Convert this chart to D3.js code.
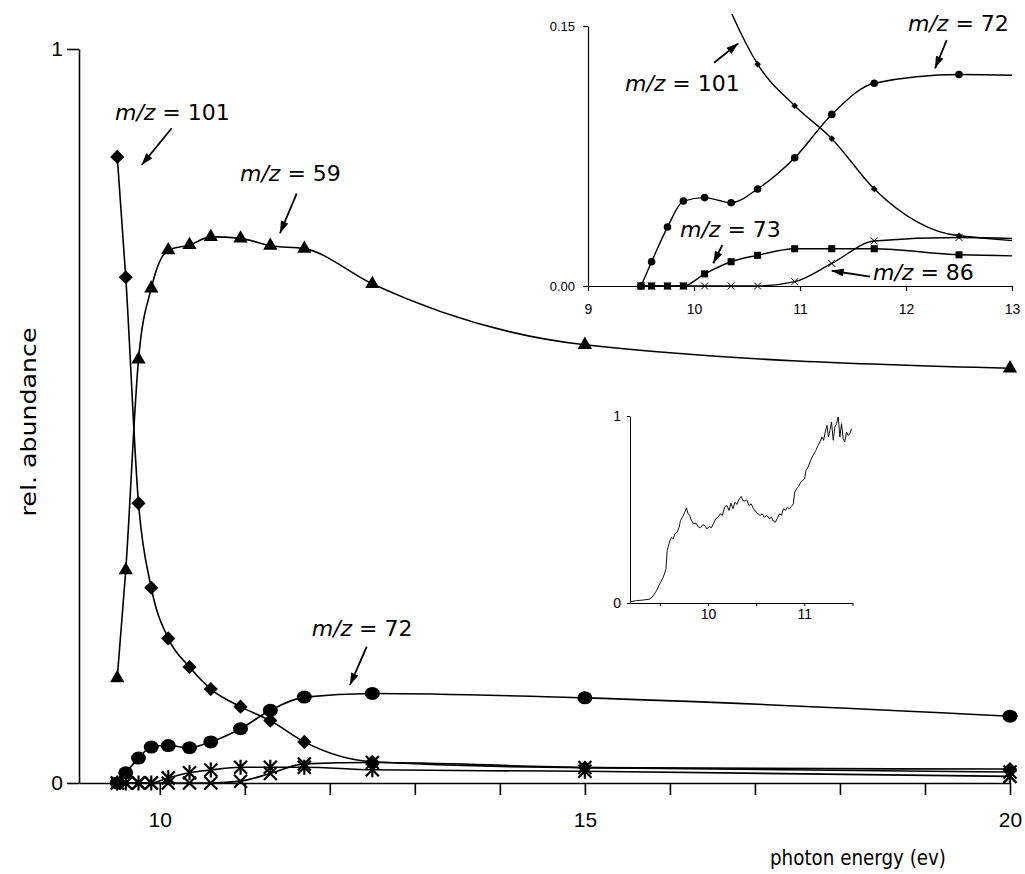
<!DOCTYPE html>
<html>
<head>
<meta charset="utf-8">
<script src="https://cdn.jsdelivr.net/npm/d3@7/dist/d3.min.js"></script>
<style>
body { margin: 0; background: #fff; }
svg { display: block; }
.note { font-family: "DejaVu Sans", sans-serif; font-size: 22px; fill: #000; }
</style>
</head>
<body>
<svg id="chart" width="1025" height="874"></svg>
<script>

// photon energies (eV) where the ion yields were measured
var energy = [9.5, 9.6, 9.75, 9.9, 10.1, 10.35, 10.6, 10.95, 11.3, 11.7, 12.5, 15, 20];

// relative abundances per ion
var mz101 = [0.853, 0.689, 0.381, 0.266, 0.197, 0.158, 0.128, 0.104, 0.085, 0.056, 0.029, 0.021, 0.019];
var mz59  = [0.143, 0.29, 0.577, 0.674, 0.726, 0.733, 0.744, 0.742, 0.732, 0.728, 0.68, 0.597, 0.565];
var mz72  = [0, 0.014, 0.034, 0.049, 0.051, 0.048, 0.056, 0.074, 0.099, 0.117, 0.122, 0.116, 0.091];
var mz73  = [0, 0, 0, 0, 0.007, 0.014, 0.0177, 0.0215, 0.0215, 0.0215, 0.018, 0.016, 0.009];
var mz86  = [0, 0, 0, 0, 0, 0, 0, 0.0025, 0.013, 0.026, 0.028, 0.021, 0.015];

// m/z 72 ion yield spectrum (small inset)
var specEnergy = [9.19, 9.26, 9.328, 9.397, 9.431, 9.466, 9.50, 9.535, 9.563, 9.576,
    9.604, 9.621, 9.638, 9.656, 9.68, 9.70, 9.714, 9.735, 9.759, 9.776,
    9.793, 9.81, 9.828, 9.852, 9.873, 9.897, 9.921, 9.948, 9.973, 9.99,
    10.01, 10.035, 10.059, 10.08, 10.104, 10.128, 10.149, 10.173, 10.197, 10.218,
    10.238, 10.259, 10.28, 10.30, 10.32, 10.345, 10.362, 10.383, 10.403, 10.424,
    10.448, 10.472, 10.50, 10.52, 10.54, 10.562, 10.586, 10.61, 10.638, 10.659,
    10.679, 10.70, 10.721, 10.741, 10.762, 10.783, 10.804, 10.824, 10.845, 10.866,
    10.886, 10.90, 10.92, 10.941, 10.962, 10.982, 11.003, 11.017, 11.038, 11.059,
    11.08, 11.10, 11.12, 11.142, 11.162, 11.183, 11.20, 11.217, 11.235, 11.25,
    11.266, 11.282, 11.30, 11.317, 11.334, 11.352, 11.369, 11.386, 11.403, 11.42,
    11.438, 11.455, 11.472, 11.49];
var specSignal = [0.007, 0.0125, 0.016, 0.021, 0.039, 0.066, 0.105, 0.1375, 0.18, 0.28,
    0.334, 0.352, 0.343, 0.37, 0.379, 0.405, 0.441, 0.459, 0.486, 0.509,
    0.477, 0.468, 0.441, 0.423, 0.427, 0.409, 0.402, 0.42, 0.409, 0.396,
    0.409, 0.402, 0.427, 0.45, 0.459, 0.477, 0.468, 0.5125, 0.521, 0.495,
    0.534, 0.504, 0.539, 0.527, 0.552, 0.57, 0.548, 0.545, 0.552, 0.521,
    0.53, 0.504, 0.486, 0.477, 0.468, 0.477, 0.459, 0.468, 0.45, 0.459,
    0.4375, 0.432, 0.455, 0.477, 0.468, 0.504, 0.495, 0.5125, 0.504, 0.516,
    0.53, 0.593, 0.611, 0.623, 0.646, 0.655, 0.664, 0.709, 0.727, 0.754,
    0.78, 0.798, 0.816, 0.843, 0.861, 0.8875, 0.87, 0.914, 0.95, 0.8875,
    0.923, 0.968, 0.87, 0.941, 0.959, 0.995, 0.8875, 0.959, 0.879, 0.861,
    0.914, 0.896, 0.905, 0.932];

var mainTicks = d3.range(10, 21);
var mainTickLabels = [10, 15, 20];
var insetTicks = [9, 10, 11, 12, 13];
var specTicks = [9.5, 10, 10.5, 11, 11.5];
var specTickLabels = [10, 11];

// annotations, in data units of the panel they sit in
var mainNotes = [
    {label: "101", tx: 9.473, ty: 0.903, x1: 10.14, y1: 0.892, x2: 9.787, y2: 0.842},
    {label: "59", tx: 10.944, ty: 0.820, x1: 11.61, y1: 0.803, x2: 11.414, y2: 0.749},
    {label: "72", tx: 11.787, ty: 0.2003, x1: 12.434, y1: 0.1857, x2: 12.237, y2: 0.1335}
];
var insetNotes = [
    {label: "101", tx: 9.349, ty: 0.1125, x1: 10.189, y1: 0.1288, x2: 10.418, y2: 0.140},
    {label: "72", tx: 12.019, ty: 0.1471, x1: 12.384, y1: 0.1419, x2: 12.274, y2: 0.1256},
    {label: "73", tx: 9.868, ty: 0.0283, x1: 10.267, y1: 0.02365, x2: 10.182, y2: 0.0131},
    {label: "86", tx: 11.689, ty: 0.0035, x1: 11.66, y1: 0.0054, x2: 11.299, y2: 0.0088}
];

function toPoints(xs, ys) {
    return xs.map(function(e, i) { return {e: e, v: ys[i]}; });
}

function onlyLabels(list) {
    return function(d) { return list.indexOf(d) >= 0 ? String(d) : ""; };
}

function styleAxis(g, size, width) {
    g.attr("font-family", "'Liberation Sans', Arial, sans-serif").attr("font-size", size);
    g.selectAll("path, line").attr("stroke", "#000").attr("stroke-width", width);
    g.selectAll("text").attr("fill", "#000");
}

function init() {
    var svg = d3.select("#chart");

    var defs = svg.append("defs");
    defs.append("marker")
        .attr("id", "arrow")
        .attr("viewBox", "0 0 12 8")
        .attr("refX", 12)
        .attr("refY", 4)
        .attr("markerUnits", "userSpaceOnUse")
        .attr("markerWidth", 13)
        .attr("markerHeight", 8)
        .attr("orient", "auto")
        .append("path")
        .attr("d", "M0,0L12,4L0,8Z")
        .attr("fill", "#000");

    defs.append("clipPath").attr("id", "insetClip")
        .append("rect")
        .attr("x", 588).attr("y", 14).attr("width", 424).attr("height", 290);

    var series = [
        {vals: mz101, shape: "diamond"},
        {vals: mz59, shape: "triangle"},
        {vals: mz72, shape: "circle"},
        {vals: mz73, shape: "asterisk"},
        {vals: mz86, shape: "cross"}
    ];

    // ---------- main panel ----------
    var x = d3.scaleLinear().domain([9.05, 20]).range([79, 1010]);
    var y = d3.scaleLinear().domain([0, 1]).range([783, 49]);

    var line = d3.line()
        .x(function(d) { return x(d.e); })
        .y(function(d) { return y(d.v); })
        .curve(d3.curveMonotoneX);

    var main = svg.append("g");

    series.forEach(function(s) {
        main.append("path")
            .datum(toPoints(energy, s.vals))
            .attr("d", line)
            .attr("fill", "none")
            .attr("stroke", "#000")
            .attr("stroke-width", 1.6);
    });

    //Create X axis
    var xAxis = d3.axisBottom(x)
        .tickValues(mainTicks)
        .tickSize(12)
        .tickSizeOuter(0)
        .tickPadding(17)
        .tickFormat(onlyLabels(mainTickLabels));
    var gx = main.append("g")
        .attr("transform", "translate(0," + y(0) + ")")
        .call(xAxis);

    //Create Y axis
    var yAxis = d3.axisLeft(y)
        .tickValues([0, 1])
        .tickSize(12)
        .tickSizeOuter(0)
        .tickPadding(4)
        .tickFormat(d3.format("d"));
    var gy = main.append("g")
        .attr("transform", "translate(" + x(9.05) + ",0)")
        .call(yAxis);

    styleAxis(gx, 21, 1.6);
    styleAxis(gy, 21, 1.6);

    series.forEach(function(s) {
        drawMarkers(main, toPoints(energy, s.vals), s.shape, x, y, "big");
    });

    main.append("text")
        .attr("class", "note")
        .attr("x", 770)
        .attr("y", 865)
        .attr("font-size", 24)
        .attr("textLength", 176)
        .attr("lengthAdjust", "spacingAndGlyphs")
        .text("photon energy (ev)");

    main.append("text")
        .attr("class", "note")
        .attr("transform", "translate(36,422) rotate(-90)")
        .attr("text-anchor", "middle")
        .attr("font-size", 24)
        .attr("textLength", 189)
        .attr("lengthAdjust", "spacingAndGlyphs")
        .text("rel. abundance");

    drawNotes(main, mainNotes, x, y);

    // ---------- top-right inset ----------
    var ix = d3.scaleLinear().domain([9, 13]).range([588, 1012]);
    var iy = d3.scaleLinear().domain([0, 0.15]).range([286, 26]);

    var iline = d3.line()
        .x(function(d) { return ix(d.e); })
        .y(function(d) { return iy(d.v); })
        .curve(d3.curveMonotoneX);

    var inset = svg.append("g");

    var ixAxis = d3.axisBottom(ix).tickValues(insetTicks).tickSize(5).tickSizeOuter(0).tickPadding(13)
        .tickFormat(d3.format("d"));
    var iyAxis = d3.axisLeft(iy).tickValues([0, 0.15]).tickSize(5).tickSizeOuter(0).tickPadding(8)
        .tickFormat(d3.format(".2f"));
    var gix = inset.append("g").attr("transform", "translate(0," + iy(0) + ")").call(ixAxis);
    var giy = inset.append("g").attr("transform", "translate(" + ix(9) + ",0)").call(iyAxis);
    styleAxis(gix, 14, 1.2);
    styleAxis(giy, 13, 1.2);

    var insetLines = inset.append("g").attr("clip-path", "url(#insetClip)");
    [mz101, mz72, mz73, mz86].forEach(function(vals) {
        insetLines.append("path")
            .datum(toPoints(energy, vals))
            .attr("d", iline)
            .attr("fill", "none")
            .attr("stroke", "#000")
            .attr("stroke-width", 1.4);
    });

    function visible(d) { return d.e <= 13 && d.v <= 0.15; }
    drawMarkers(inset, toPoints(energy, mz86).filter(visible), "cross", ix, iy, "small");
    drawMarkers(inset, toPoints(energy, mz101).filter(visible), "diamond", ix, iy, "small");
    drawMarkers(inset, toPoints(energy, mz72).filter(visible), "circle", ix, iy, "small");
    drawMarkers(inset, toPoints(energy, mz73).filter(visible), "square", ix, iy, "small");

    drawNotes(inset, insetNotes, ix, iy);

    // ---------- small spectrum inset ----------
    var sx = d3.scaleLinear().domain([9.19, 11.5]).range([630, 852.5]);
    var sy = d3.scaleLinear().domain([0, 1]).range([603, 416]);

    var spec = svg.append("g");
    var sxAxis = d3.axisBottom(sx).tickValues(specTicks).tickSize(3).tickSizeOuter(0).tickPadding(3)
        .tickFormat(onlyLabels(specTickLabels));
    var syAxis = d3.axisLeft(sy).tickValues([0, 1]).tickSize(3).tickSizeOuter(0).tickPadding(6)
        .tickFormat(d3.format("d"));
    var gsx = spec.append("g").attr("transform", "translate(0," + sy(0) + ")").call(sxAxis);
    var gsy = spec.append("g").attr("transform", "translate(" + sx(9.19) + ",0)").call(syAxis);
    styleAxis(gsx, 14, 1);
    styleAxis(gsy, 14, 1);

    spec.append("path")
        .datum(toPoints(specEnergy, specSignal))
        .attr("d", d3.line()
            .x(function(d) { return sx(d.e); })
            .y(function(d) { return sy(d.v); }))
        .attr("fill", "none")
        .attr("stroke", "#111")
        .attr("stroke-width", 1);
}

function drawMarkers(g, pts, shape, xs, ys, scale) {
    var big = scale === "big";
    var grp = g.append("g");
    pts.forEach(function(d) {
        var cx = xs(d.e), cy = ys(d.v);
        if (shape === "circle") {
            grp.append("ellipse")
                .attr("cx", cx).attr("cy", cy)
                .attr("rx", big ? 7.5 : 3.8).attr("ry", big ? 6.5 : 3.8)
                .attr("fill", "#000");
        } else if (shape === "diamond") {
            grp.append("path")
                .attr("d", d3.symbol(d3.symbolSquare, big ? 100 : 22)())
                .attr("transform", "translate(" + cx + "," + cy + ") rotate(45)")
                .attr("fill", "#000");
        } else if (shape === "triangle") {
            grp.append("path")
                .attr("d", d3.symbol(d3.symbolTriangle, 88)())
                .attr("transform", "translate(" + cx + "," + cy + ")")
                .attr("fill", "#000");
        } else if (shape === "square") {
            grp.append("path")
                .attr("d", d3.symbol(d3.symbolSquare, 50)())
                .attr("transform", "translate(" + cx + "," + cy + ")")
                .attr("fill", "#000");
        } else {
            var r = big ? 6.5 : 3.5;
            var p = "M" + (cx - r) + "," + (cy - r) + "L" + (cx + r) + "," + (cy + r) +
                    "M" + (cx - r) + "," + (cy + r) + "L" + (cx + r) + "," + (cy - r);
            if (shape === "asterisk") {
                p += "M" + cx + "," + (cy - r - 1) + "L" + cx + "," + (cy + r + 1);
            }
            grp.append("path")
                .attr("d", p)
                .attr("fill", "none")
                .attr("stroke", "#000")
                .attr("stroke-width", big ? 2.2 : 1);
        }
    });
}

function drawNotes(g, notes, xs, ys) {
    notes.forEach(function(n) {
        var t = g.append("text")
            .attr("class", "note")
            .attr("x", xs(n.tx))
            .attr("y", ys(n.ty));
        t.append("tspan").attr("font-style", "italic").text("m/z");
        t.append("tspan").text(" = " + n.label);

        g.append("line")
            .attr("x1", xs(n.x1)).attr("y1", ys(n.y1))
            .attr("x2", xs(n.x2)).attr("y2", ys(n.y2))
            .attr("stroke", "#000")
            .attr("stroke-width", 1.8)
            .attr("marker-end", "url(#arrow)");
    });
}

init();
</script>
</body>
</html>
